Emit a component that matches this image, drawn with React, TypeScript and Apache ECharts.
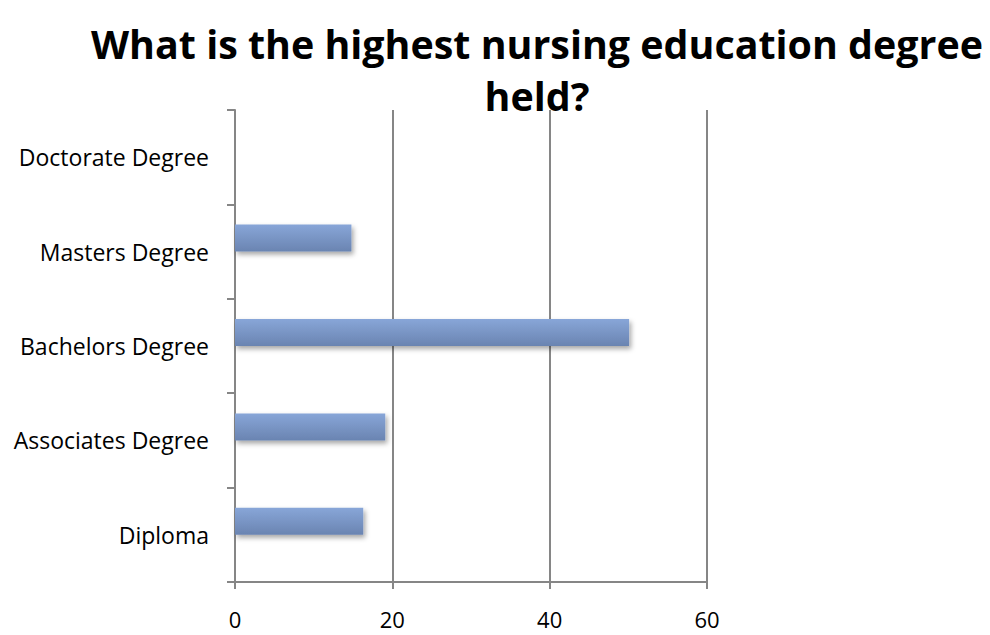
import React, { useEffect, useRef } from "react";
import * as echarts from "echarts";

const categories = ["Diploma", "Associates Degree", "Bachelors Degree", "Masters Degree", "Doctorate Degree"];
const values = [16.3, 19.1, 50.1, 14.8, 0];
const spacer = [0, 0, 0, 0, 0];
const xTicks = [0, 20, 40, 60];
const titleText = "What is the highest nursing education degree\nheld?";

export default function App() {
  const ref = useRef<HTMLDivElement>(null);
  useEffect(() => {
    const chart = echarts.init(ref.current!, null, { renderer: "svg" });
    chart.setOption({
      animation: false,
      backgroundColor: "#ffffff",
      title: {
        text: titleText,
        left: 532,
        textAlign: "center",
        top: 13,
        textStyle: {
          fontFamily: "Open Sans",
          fontWeight: "bold",
          fontSize: 39.4,
          lineHeight: 52,
          color: "#000",
        },
      },
      grid: { left: 235, right: 283, top: 110, bottom: 53, containLabel: false },
      xAxis: {
        type: "value",
        min: xTicks[0],
        max: xTicks[xTicks.length - 1],
        interval: 20,
        axisLine: { show: true, lineStyle: { color: "#868686", width: 2 } },
        axisTick: { show: true, length: 7, lineStyle: { color: "#868686", width: 2 } },
        splitLine: { show: true, lineStyle: { color: "#868686", width: 2 } },
        axisLabel: {
          fontFamily: "Open Sans",
          fontSize: 22,
          lineHeight: 22,
          color: "#000",
          margin: 26,
        },
      },
      yAxis: {
        type: "category",
        data: categories,
        axisLine: { show: true, onZero: false, lineStyle: { color: "#868686", width: 2 } },
        axisTick: { show: true, length: 8, alignWithLabel: false, lineStyle: { color: "#868686", width: 2 } },
        axisLabel: {
          fontFamily: "Open Sans",
          fontSize: 23,
          color: "#000",
          margin: 26,
        },
      },
      series: [
        {
          type: "bar",
          data: values,
          barWidth: 27,
          barGap: 0,
          itemStyle: {
            color: new echarts.graphic.LinearGradient(0, 0, 0, 1, [
              { offset: 0, color: "#88a6d8" },
              { offset: 1, color: "#6a84b1" },
            ]),
            shadowColor: "rgba(0,0,0,0.35)",
            shadowBlur: 5,
            shadowOffsetX: 2,
            shadowOffsetY: 3,
          },
        },
        {
          type: "bar",
          data: spacer,
          barWidth: 27,
          barGap: 0,
          silent: true,
          itemStyle: { color: "transparent" },
        },
      ],
    });
    return () => chart.dispose();
  }, []);
  return <div ref={ref} style={{ width: 990, height: 635, position: "absolute", left: 0, top: 0 }} />;
}
